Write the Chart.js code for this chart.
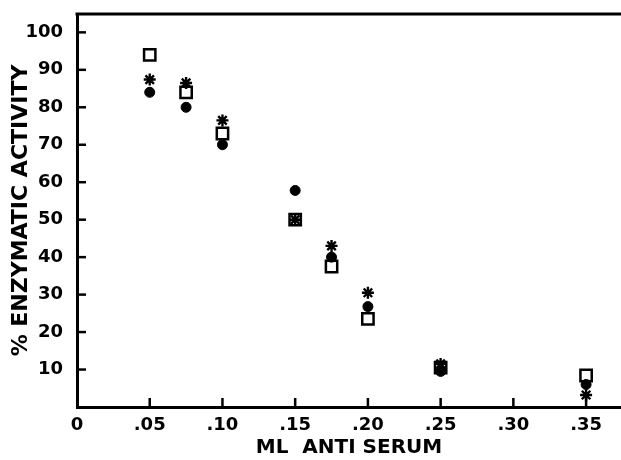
<!DOCTYPE html>
<html>
<head>
<meta charset="utf-8">
<script src="https://cdn.jsdelivr.net/npm/chart.js@4"></script>
<style>
  html, body { margin: 0; padding: 0; background: #fff; }
  #wrap { width: 621px; height: 460px; }
</style>
</head>
<body>
<div id="wrap"><canvas id="c" width="621" height="460"></canvas></div>
<script>
// ---- data ----
const doses = [0.05, 0.075, 0.10, 0.15, 0.175, 0.20, 0.25, 0.35];
const squareSeries = [94, 84, 73, 50, 37.5, 23.5, 10.5, 8.4];
const circleSeries = [84, 80, 70, 57.8, 40, 26.8, 9.5, 6];
const starSeries   = [87.4, 86.5, 76.5, 50, 43, 30.5, 11.5, 3.2];

const xTicks = [0, 0.05, 0.10, 0.15, 0.20, 0.25, 0.30, 0.35];
const xTickLabels = ['0', '.05', '.10', '.15', '.20', '.25', '.30', '.35'];
const yTicks = [10, 20, 30, 40, 50, 60, 70, 80, 90, 100];
const yTickLabels = ['10', '20', '30', '40', '50', '60', '70', '80', '90', '100'];

const xTitle = 'ML  ANTI SERUM';
const yTitle = '% ENZYMATIC ACTIVITY';

function pts(arr) { return doses.map((d, i) => ({ x: d, y: arr[i] })); }

const FONT = 'DejaVu Sans';

const innerTicks = {
  id: 'innerTicks',
  afterDraw(chart) {
    const { ctx, chartArea } = chart;
    const xs = chart.scales.x, ys = chart.scales.y;
    ctx.save();
    ctx.strokeStyle = '#000';
    ctx.lineCap = 'butt';
    // top frame line
    ctx.lineWidth = 3;
    ctx.beginPath();
    ctx.moveTo(chartArea.left - 1.5, chartArea.top);
    ctx.lineTo(chartArea.right, chartArea.top);
    ctx.stroke();
    ctx.lineWidth = 2.5;
    xTicks.forEach(v => {
      if (v === 0) return;
      const px = xs.getPixelForValue(v);
      ctx.beginPath();
      ctx.moveTo(px, chartArea.bottom);
      ctx.lineTo(px, chartArea.bottom - 9);
      ctx.stroke();
    });
    yTicks.forEach(v => {
      const py = ys.getPixelForValue(v);
      ctx.beginPath();
      ctx.moveTo(chartArea.left, py);
      ctx.lineTo(chartArea.left + 9, py);
      ctx.stroke();
    });
    ctx.restore();
  }
};

new Chart(document.getElementById('c'), {
  type: 'scatter',
  data: {
    datasets: [
      {
        label: 'squares', data: pts(squareSeries), order: 3,
        pointStyle: 'rect', pointRadius: 8, pointBackgroundColor: '#fff',
        pointBorderColor: '#000', pointBorderWidth: 2.5
      },
      {
        label: 'circles', data: pts(circleSeries), order: 2,
        pointStyle: 'circle', pointRadius: 5, pointBackgroundColor: '#000',
        pointBorderColor: '#000', pointBorderWidth: 1
      },
      {
        label: 'stars', data: pts(starSeries), order: 1,
        pointStyle: 'star', pointRadius: 6, pointBackgroundColor: '#000',
        pointBorderColor: '#000', pointBorderWidth: 2.4
      }
    ]
  },
  options: {
    responsive: false,
    animation: false,
    events: [],
    layout: { autoPadding: false, padding: { top: 14, right: 0, left: 0, bottom: 0 } },
    plugins: { legend: { display: false }, tooltip: { enabled: false } },
    scales: {
      x: {
        type: 'linear', min: 0, max: 0.374,
        afterFit(s) { s.height = 53; s.paddingLeft = 0; s.paddingRight = 0; },
        afterBuildTicks(s) { s.ticks = xTicks.map(v => ({ value: v })); },
        grid: { display: false, drawTicks: false },
        border: { display: true, color: '#000', width: 3 },
        ticks: {
          padding: 8, color: '#000', maxRotation: 0, autoSkip: false,
          font: { family: FONT, size: 18, weight: 'bold' },
          callback: (v, i) => xTickLabels[i]
        },
        title: {
          display: true, text: xTitle, color: '#000',
          font: { family: FONT, size: 20, weight: 'bold' },
          padding: { top: 0, bottom: 0 }
        }
      },
      y: {
        type: 'linear', min: 0, max: 104.9,
        afterFit(s) { s.width = 77; s.paddingTop = 0; s.paddingBottom = 0; },
        afterBuildTicks(s) { s.ticks = yTicks.map(v => ({ value: v })); },
        grid: { display: false, drawTicks: false },
        border: { display: true, color: '#000', width: 3 },
        ticks: {
          padding: 14, color: '#000', autoSkip: false,
          font: { family: FONT, size: 18, weight: 'bold' },
          callback: (v, i) => yTickLabels[i]
        },
        title: {
          display: true, text: yTitle, color: '#000',
          font: { family: FONT, size: 22, weight: 'bold' },
          padding: { top: 8, bottom: 0 }
        }
      }
    }
  },
  plugins: [innerTicks]
});
</script>
</body>
</html>
